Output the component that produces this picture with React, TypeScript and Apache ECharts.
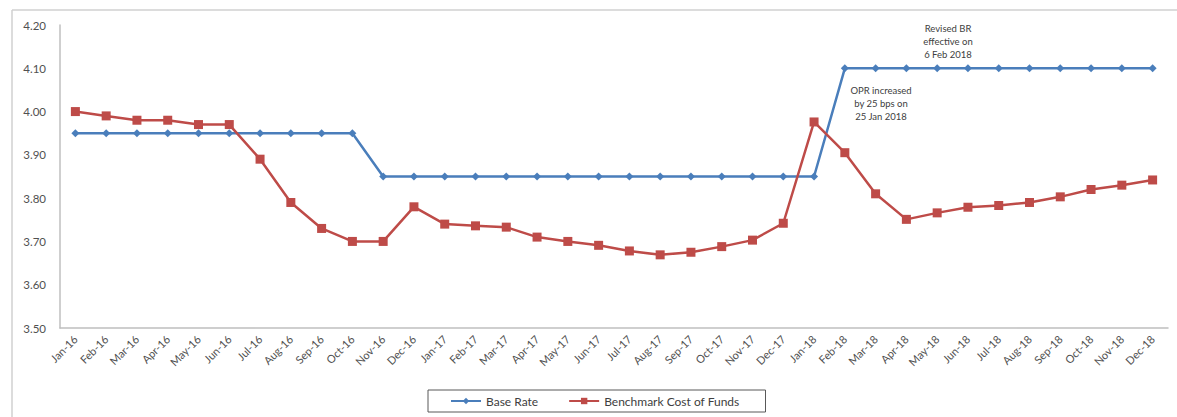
import React, { useEffect, useRef } from "react";
import * as echarts from "echarts";

const categories = [
  "Jan-16", "Feb-16", "Mar-16", "Apr-16", "May-16", "Jun-16", "Jul-16", "Aug-16", "Sep-16", "Oct-16", "Nov-16", "Dec-16",
  "Jan-17", "Feb-17", "Mar-17", "Apr-17", "May-17", "Jun-17", "Jul-17", "Aug-17", "Sep-17", "Oct-17", "Nov-17", "Dec-17",
  "Jan-18", "Feb-18", "Mar-18", "Apr-18", "May-18", "Jun-18", "Jul-18", "Aug-18", "Sep-18", "Oct-18", "Nov-18", "Dec-18",
];

const baseRate = [
  3.95, 3.95, 3.95, 3.95, 3.95, 3.95, 3.95, 3.95, 3.95, 3.95, 3.85, 3.85,
  3.85, 3.85, 3.85, 3.85, 3.85, 3.85, 3.85, 3.85, 3.85, 3.85, 3.85, 3.85,
  3.85, 4.1, 4.1, 4.1, 4.1, 4.1, 4.1, 4.1, 4.1, 4.1, 4.1, 4.1,
];

const benchmarkCost = [
  4.0, 3.99, 3.98, 3.98, 3.97, 3.97, 3.89, 3.79, 3.73, 3.7, 3.7, 3.78,
  3.74, 3.736, 3.733, 3.71, 3.7, 3.691, 3.678, 3.669, 3.675, 3.688, 3.703, 3.742,
  3.976, 3.905, 3.81, 3.751, 3.766, 3.779, 3.783, 3.79, 3.803, 3.82, 3.83, 3.842,
];

const seriesNames = ["Base Rate", "Benchmark Cost of Funds"];
const noteBR = "Revised BR\neffective on\n6 Feb 2018";
const noteOPR = "OPR increased\nby 25 bps on\n25 Jan 2018";

const FONT = "Lato, 'Open Sans', sans-serif";
const BLUE = "#4A7EBB";
const RED = "#BE4B48";

export default function App() {
  const ref = useRef<HTMLDivElement>(null);
  useEffect(() => {
    document.body.style.margin = "0";
    const chart = echarts.init(ref.current!, null, { renderer: "svg" });
    chart.setOption({
      animation: false,
      backgroundColor: "#ffffff",
      textStyle: { fontFamily: FONT },
      grid: { left: 60, right: 9, top: 25, bottom: 89, containLabel: false },
      xAxis: {
        type: "category",
        data: categories,
        boundaryGap: true,
        axisLine: { lineStyle: { color: "#BFBFBF", width: 1.5 } },
        axisTick: { show: false },
        axisLabel: {
          rotate: 45,
          interval: 0,
          color: "#505050",
          fontSize: 11,
          fontFamily: FONT,
          margin: 9,
        },
      },
      yAxis: {
        type: "value",
        min: 3.5,
        max: 4.2,
        interval: 0.1,
        splitLine: { show: false },
        axisLine: { show: true, lineStyle: { color: "#BFBFBF", width: 1.5 } },
        axisTick: { show: false },
        axisLabel: {
          color: "#505050",
          fontSize: 11.5,
          fontFamily: FONT,
          margin: 14,
          formatter: (v: number) => v.toFixed(2),
        },
      },
      legend: {
        bottom: 5,
        left: 428,
        data: seriesNames,
        itemWidth: 30,
        itemHeight: 8,
        itemGap: 30,
        borderColor: "#595959",
        borderWidth: 1,
        padding: [5, 26, 5, 22],
        textStyle: { color: "#404040", fontSize: 12, fontFamily: FONT },
      },
      graphic: [
        { type: "line", shape: { x1: 12, y1: 10, x2: 1177, y2: 10 }, style: { stroke: "#D0D0D0", lineWidth: 1.5 }, silent: true },
        { type: "line", shape: { x1: 12, y1: 10, x2: 12, y2: 417 }, style: { stroke: "#D0D0D0", lineWidth: 1.5 }, silent: true },
        {
          type: "text",
          x: 948,
          y: 22,
          style: { text: noteBR, fill: "#404040", font: `9.5px ${FONT}`, textAlign: "center", lineHeight: 13 },
          silent: true,
        },
        {
          type: "text",
          x: 881,
          y: 84,
          style: { text: noteOPR, fill: "#404040", font: `9.5px ${FONT}`, textAlign: "center", lineHeight: 13 },
          silent: true,
        },
      ],
      series: [
        {
          name: seriesNames[0],
          type: "line",
          data: baseRate,
          color: BLUE,
          symbol: "diamond",
          symbolSize: 8,
          lineStyle: { width: 2.5, color: BLUE },
          itemStyle: { color: BLUE },
          z: 2,
        },
        {
          name: seriesNames[1],
          type: "line",
          data: benchmarkCost,
          color: RED,
          symbol: "rect",
          symbolSize: 9,
          lineStyle: { width: 2.5, color: RED },
          itemStyle: { color: RED },
          z: 3,
        },
      ],
    });
    return () => chart.dispose();
  }, []);
  return <div ref={ref} style={{ position: "fixed", left: 0, top: 0, width: 1177, height: 417 }} />;
}
